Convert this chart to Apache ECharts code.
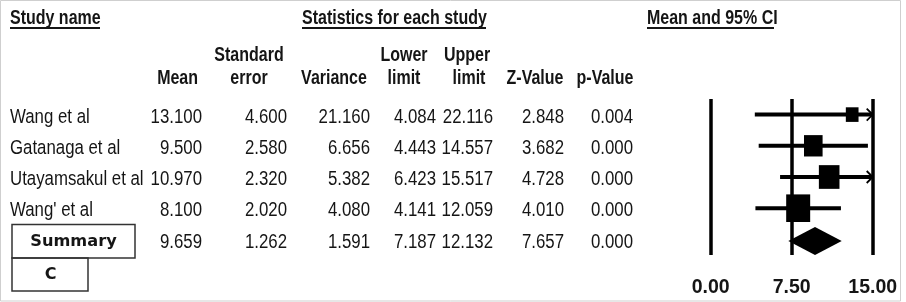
<!DOCTYPE html>
<html>
<head>
<meta charset="utf-8">
<title>Forest plot</title>
<script src="https://cdn.jsdelivr.net/npm/echarts@6/dist/echarts.min.js"></script>
<style>
  html, body { margin: 0; padding: 0; background: #fff; }
  #main { width: 906px; height: 302px; }
</style>
</head>
<body>
<div id="main"></div>
<script>
// data
var studyNames = ['Wang et al', 'Gatanaga et al', 'Utayamsakul et al', "Wang' et al", 'Summary'];
var means = [13.100, 9.500, 10.970, 8.100, 9.659];
var stdErrors = [4.600, 2.580, 2.320, 2.020, 1.262];
var variances = [21.160, 6.656, 5.382, 4.080, 1.591];
var lowerLimits = [4.084, 4.443, 6.423, 4.141, 7.187];
var upperLimits = [22.116, 14.557, 15.517, 12.059, 12.132];
var zValues = [2.848, 3.682, 4.728, 4.010, 7.657];
var pValues = [0.004, 0.000, 0.000, 0.000, 0.000];
var axisTicks = [0, 7.5, 15];

// Arial Narrow look: use Liberation Sans Narrow if there, else squeeze Liberation Sans
var cv = document.createElement('canvas').getContext('2d');
cv.font = '20px "Liberation Sans Narrow", monospace';
var wN = cv.measureText('Utayamsakul et al').width;
cv.font = '20px monospace';
var wM = cv.measureText('Utayamsakul et al').width;
var hasNarrow = Math.abs(wN - wM) > 1;
var FAM = hasNarrow ? '"Liberation Sans Narrow", "Liberation Sans", Arial' : '"Liberation Sans", Arial';
var SX = hasNarrow ? 1 : 0.82;
var INK = '#151515';

// table columns (right edges) for the numeric cells
var colRight = [202, 287, 370, 436, 493, 564, 633];

function txt(x, y, s, align, bold, size) {
  return {
    type: 'text', x: x, y: y, scaleX: SX,
    style: {
      text: s, fill: INK,
      font: (bold ? 'bold ' : '') + size + 'px ' + FAM,
      align: align, verticalAlign: 'middle'
    }
  };
}
function uline(x1, x2, y) {
  return { type: 'line', shape: { x1: x1, y1: y, x2: x2, y2: y }, style: { stroke: INK, lineWidth: 2 } };
}

var rowIdx = studyNames.map(function (n, i) { return i; });
var tableData = rowIdx.map(function (i) { return [0, i]; });
var forestData = rowIdx.map(function (i) {
  return [means[i], i, lowerLimits[i], upperLimits[i], variances[i]];
});
var maxWeight = Math.max.apply(null, variances.slice(0, 4).map(function (v) { return 1 / v; }));

var myChart = echarts.init(document.getElementById('main'), null, { renderer: 'canvas' });

myChart.setOption({
  backgroundColor: '#fff',
  animation: false,
  grid: [
    { left: 0, right: 0, top: 99, bottom: 47 },
    { left: 710.7, right: 33.3, top: 99, bottom: 47 }
  ],
  xAxis: [
    { gridIndex: 0, type: 'value', min: 0, max: 906, show: false },
    {
      gridIndex: 1, type: 'value', min: axisTicks[0], max: axisTicks[2],
      interval: axisTicks[1] - axisTicks[0],
      axisLine: { show: false },
      axisTick: { show: false },
      splitLine: { show: true, lineStyle: { color: '#000', width: 3.5 } },
      axisLabel: {
        margin: 23, color: INK, fontWeight: 'bold', fontSize: 19.5,
        fontFamily: FAM,
        formatter: function (v) { return v.toFixed(2); }
      }
    }
  ],
  yAxis: [
    { gridIndex: 0, type: 'category', inverse: true, data: rowIdx, show: false },
    { gridIndex: 1, type: 'category', inverse: true, data: rowIdx, show: false }
  ],
  series: [
    {
      // table body
      type: 'custom', xAxisIndex: 0, yAxisIndex: 0, data: tableData, clip: false,
      renderItem: function (params, api) {
        var i = api.value(1);
        var y = api.coord([0, i])[1] + 2.5;
        var kids = [];
        if (i < 4) kids.push(txt(10, y, studyNames[i], 'left', false, 20.5));
        var vals = [means[i], stdErrors[i], variances[i], lowerLimits[i], upperLimits[i], zValues[i], pValues[i]];
        vals.forEach(function (v, k) {
          kids.push(txt(colRight[k], y, v.toFixed(3), 'right', false, 20.5));
        });
        return { type: 'group', children: kids };
      }
    },
    {
      // forest plot marks
      type: 'custom', xAxisIndex: 1, yAxisIndex: 1, data: forestData, clip: false,
      renderItem: function (params, api) {
        var i = api.value(1);
        var m = api.value(0), lo = api.value(2), hi = api.value(3);
        var xmax = axisTicks[2], xmin = axisTicks[0];
        var pm = api.coord([m, i]);
        var pl = api.coord([Math.max(lo, xmin), i]);
        var ph = api.coord([Math.min(hi, xmax), i]);
        var y = pm[1];
        if (i === 4) {
          y += 1.5;
          return {
            type: 'polygon',
            shape: { points: [[pl[0], y], [pm[0], y - 14], [ph[0], y], [pm[0], y + 14]] },
            style: { fill: '#000' }
          };
        }
        var w = 10 + 14 * ((1 / api.value(4)) / maxWeight);
        var h = w * 1.15;
        var kids = [
          { type: 'line', shape: { x1: pl[0], y1: y, x2: ph[0], y2: y }, style: { stroke: '#000', lineWidth: 4 } },
          { type: 'rect', shape: { x: pm[0] - w / 2, y: y - h / 2, width: w, height: h }, style: { fill: '#000' } }
        ];
        if (hi > xmax) {
          kids.push({
            type: 'polyline',
            shape: { points: [[ph[0] - 6, y - 6], [ph[0], y], [ph[0] - 6, y + 6]] },
            style: { stroke: '#000', lineWidth: 1.8, fill: null }
          });
        }
        return { type: 'group', children: kids };
      }
    }
  ],
  graphic: [
    { type: 'rect', shape: { x: 0.5, y: 0.5, width: 900, height: 300.5 }, style: { fill: null, stroke: '#cfcfcf', lineWidth: 1 } },
    txt(10, 18.5, 'Study name', 'left', true, 19.5),
    uline(10, 100, 28),
    txt(302, 18.5, 'Statistics for each study', 'left', true, 19.5),
    uline(302, 486, 28),
    txt(647, 18.5, 'Mean and 95% CI', 'left', true, 19.5),
    uline(647, 774, 28),
    txt(249, 56, 'Standard', 'center', true, 19.5),
    txt(249, 79, 'error', 'center', true, 19.5),
    txt(198, 79, 'Mean', 'right', true, 19.5),
    txt(334, 79, 'Variance', 'center', true, 19.5),
    txt(404, 56, 'Lower', 'center', true, 19.5),
    txt(404, 79, 'limit', 'center', true, 19.5),
    txt(467, 56, 'Upper', 'center', true, 19.5),
    txt(469, 79, 'limit', 'center', true, 19.5),
    txt(535, 79, 'Z-Value', 'center', true, 19.5),
    txt(605, 79, 'p-Value', 'center', true, 19.5),
    { type: 'rect', shape: { x: 12, y: 224.5, width: 123, height: 33.5 }, style: { fill: null, stroke: '#333', lineWidth: 1.5 } },
    { type: 'rect', shape: { x: 12, y: 258, width: 76, height: 33 }, style: { fill: null, stroke: '#333', lineWidth: 1.5 } },
    {
      type: 'text', x: 73.5, y: 242, scaleX: 1.08,
      style: { text: studyNames[4], fill: INK, font: 'bold 15px "DejaVu Sans"', align: 'center', verticalAlign: 'middle' }
    },
    {
      type: 'text', x: 50.5, y: 275,
      style: { text: 'C', fill: INK, font: 'bold 16px "DejaVu Sans"', align: 'center', verticalAlign: 'middle' }
    }
  ]
});
</script>
</body>
</html>
